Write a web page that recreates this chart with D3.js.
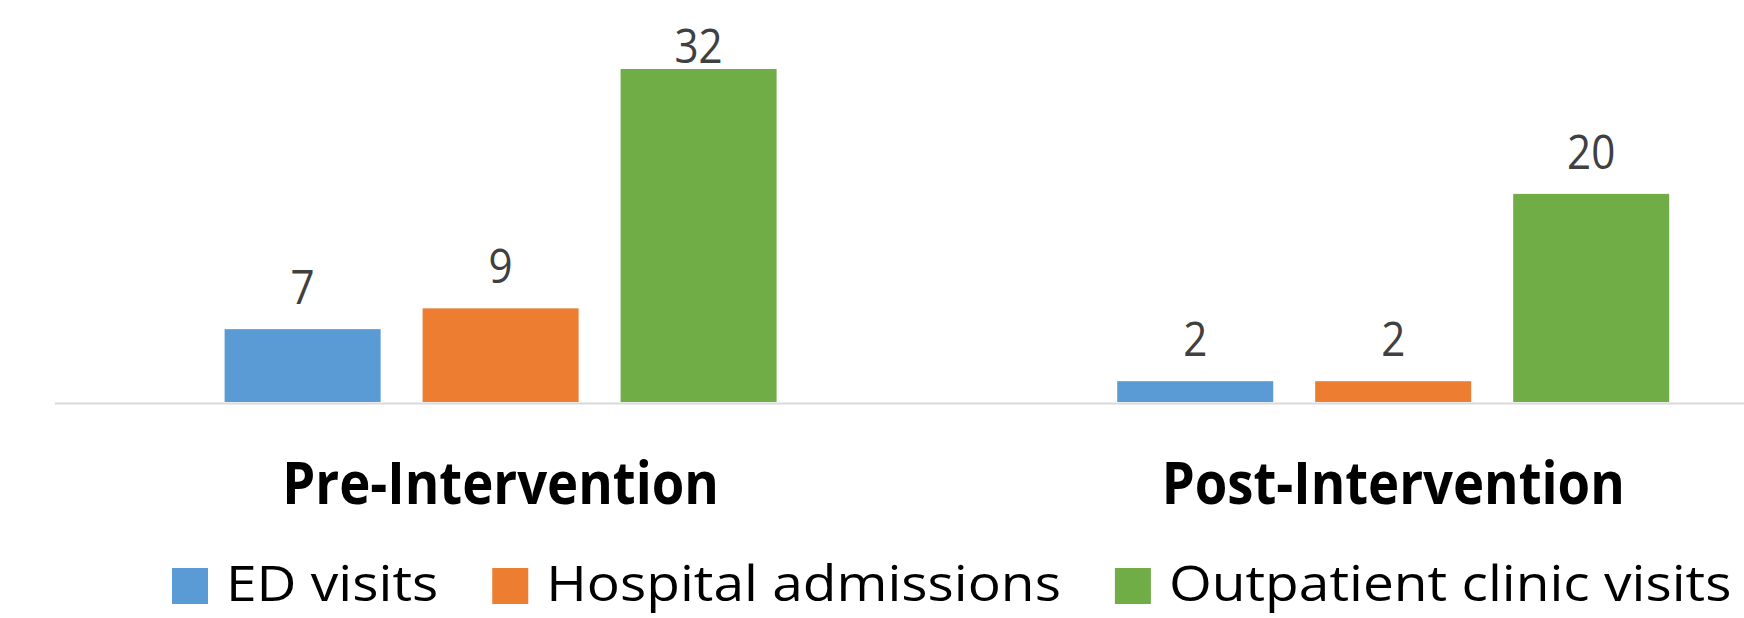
<!DOCTYPE html>
<html>
<head>
<meta charset="utf-8">
<script src="https://cdn.jsdelivr.net/npm/d3@7"></script>
<style>
html,body{margin:0;padding:0;background:#fff;overflow:hidden;}
svg{display:block;}
</style>
</head>
<body>
<svg id="chart" width="1744" height="618"></svg>
<script>
// ---- data ----
const categories = ["Pre-Intervention", "Post-Intervention"];
const seriesNames = ["ED visits", "Hospital admissions", "Outpatient clinic visits"];
const edVisits = [7, 2];
const hospitalAdmissions = [9, 2];
const outpatientVisits = [32, 20];
const seriesColors = ["#5B9BD5", "#ED7D31", "#70AD47"];
const yMax = 35;

const seriesValues = [edVisits, hospitalAdmissions, outpatientVisits];

const svg = d3.select("#chart");
const font = "'Open Sans', 'Noto Sans', sans-serif";

// plot geometry (plot area extends beyond the right edge, as in the reference)
const plotLeft = 54.3, plotRight = 1839.5, plotBottom = 402, plotTop = 37.8;

const x0 = d3.scaleBand().domain(categories).range([plotLeft, plotRight]).padding(0);
const groupPad = (x0.bandwidth() - 552) / 2;
const x1 = d3.scaleBand().domain(seriesNames)
  .range([groupPad, x0.bandwidth() - groupPad]).paddingInner(0.212).paddingOuter(0);
const y = d3.scaleLinear().domain([0, yMax]).range([plotBottom, plotTop]);

const data = [];
categories.forEach((c, ci) => {
  seriesNames.forEach((s, si) => {
    data.push({cat: c, series: s, value: seriesValues[si][ci], color: seriesColors[si]});
  });
});

// bars
svg.append("g").selectAll("rect").data(data).join("rect")
  .attr("x", d => x0(d.cat) + x1(d.series))
  .attr("y", d => y(d.value))
  .attr("width", x1.bandwidth())
  .attr("height", d => y(0) - y(d.value))
  .attr("fill", d => d.color);

// baseline axis
const xAxis = d3.axisBottom(x0).tickSize(0).tickFormat("");
const axG = svg.append("g").attr("transform", `translate(0,${plotBottom + 1})`).call(xAxis);
axG.select(".domain").attr("stroke", "#D9D9D9").attr("stroke-width", 2);

// category labels
svg.append("g").selectAll("text").data(categories).join("text")
  .attr("transform", d => `translate(${x0(d) + x0.bandwidth() / 2},504.3) scale(0.903,1)`)
  .attr("text-anchor", "middle")
  .attr("font-family", font)
  .attr("font-weight", "bold")
  .attr("font-size", 58.3)
  .attr("fill", "#000")
  .text(d => d);

// data labels
const labelMinBaseline = y(yMax) + 25;
svg.append("g").selectAll("text").data(data).join("text")
  .attr("transform", d => {
    const cx = x0(d.cat) + x1(d.series) + x1.bandwidth() / 2;
    const by = Math.max(y(d.value) - 25, labelMinBaseline);
    return `translate(${cx},${by}) scale(0.886,1)`;
  })
  .attr("text-anchor", "middle")
  .attr("font-family", font)
  .attr("font-size", 47.6)
  .attr("fill", "#404040")
  .text(d => d.value);

// legend
const legend = svg.append("g");
let lx = 172;
const legendSx = 1.115;
seriesNames.forEach((s, i) => {
  legend.append("rect")
    .attr("x", lx).attr("y", 568).attr("width", 36).attr("height", 36)
    .attr("fill", seriesColors[i]);
  const t = legend.append("text")
    .attr("transform", `translate(${lx + 54},601) scale(${legendSx},1)`)
    .attr("font-family", font)
    .attr("font-size", 49.4)
    .attr("fill", "#000")
    .text(s);
  const w = t.node().getComputedTextLength() * legendSx;
  lx = lx + 54 + w + 54;
});
</script>
</body>
</html>
